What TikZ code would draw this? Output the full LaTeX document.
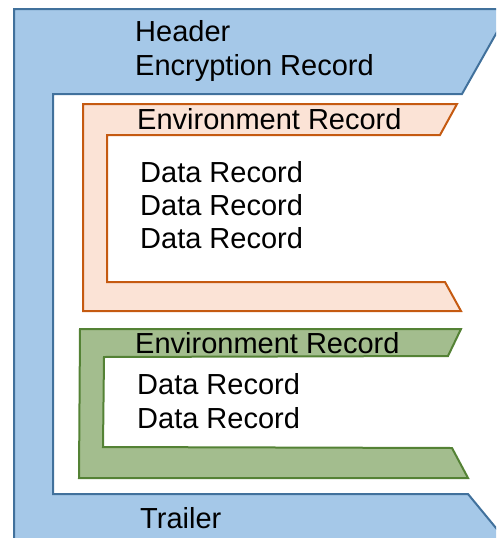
\documentclass[tikz,border=0pt]{standalone}
\usepackage{fontspec}
\setmainfont{Liberation Sans}
\definecolor{bluefill}{HTML}{A5C8E8}
\definecolor{bluedraw}{HTML}{41719C}
\definecolor{orfill}{HTML}{FBE3D6}
\definecolor{ordraw}{HTML}{C55A11}
\definecolor{grfill}{HTML}{A3BD8E}
\definecolor{grdraw}{HTML}{548235}
\begin{document}
\begin{tikzpicture}[x=1pt,y=-1pt,
  lbl/.style={anchor=base west,inner sep=0pt,font=\fontsize{29}{34}\selectfont},
  shp/.style={line width=2pt,line join=miter}]
\useasboundingbox (0,0) rectangle (496,538);
\clip (0,0) rectangle (496,538);
% blue outer frame
\draw[shp,draw=bluedraw,fill=bluefill]
  (14,9) -- (510,9) -- (462,94) -- (53,94) -- (53,494) -- (468,494) -- (510,545) -- (14,545) -- cycle;
% orange
\draw[shp,draw=ordraw,fill=orfill]
  (83,104) -- (457,104) -- (440,135) -- (107,135) -- (107,282) -- (445,282) -- (461,311) -- (83,311) -- cycle;
% green
\draw[shp,draw=grdraw,fill=grfill]
  (80,329) -- (461,329) -- (448,356) -- (104,357) -- (103,447) -- (452,448) -- (468,478) -- (79,478) -- cycle;
% texts
\node[lbl] (hdr) at (135,41) {Header};
\node[lbl] (enc) at (135,75) {Encryption Record};
\node[lbl] (env1) at (137,129) {Environment Record};
\node[lbl] (d1) at (140,182) {Data Record};
\node[lbl] (d2) at (140,215) {Data Record};
\node[lbl] (d3) at (140,248) {Data Record};
\node[lbl] (env2) at (135,353) {Environment Record};
\node[lbl] (d4) at (137,394) {Data Record};
\node[lbl] (d5) at (137,428) {Data Record};
\node[lbl] (trl) at (140,528) {Trailer};
\end{tikzpicture}
\end{document}
